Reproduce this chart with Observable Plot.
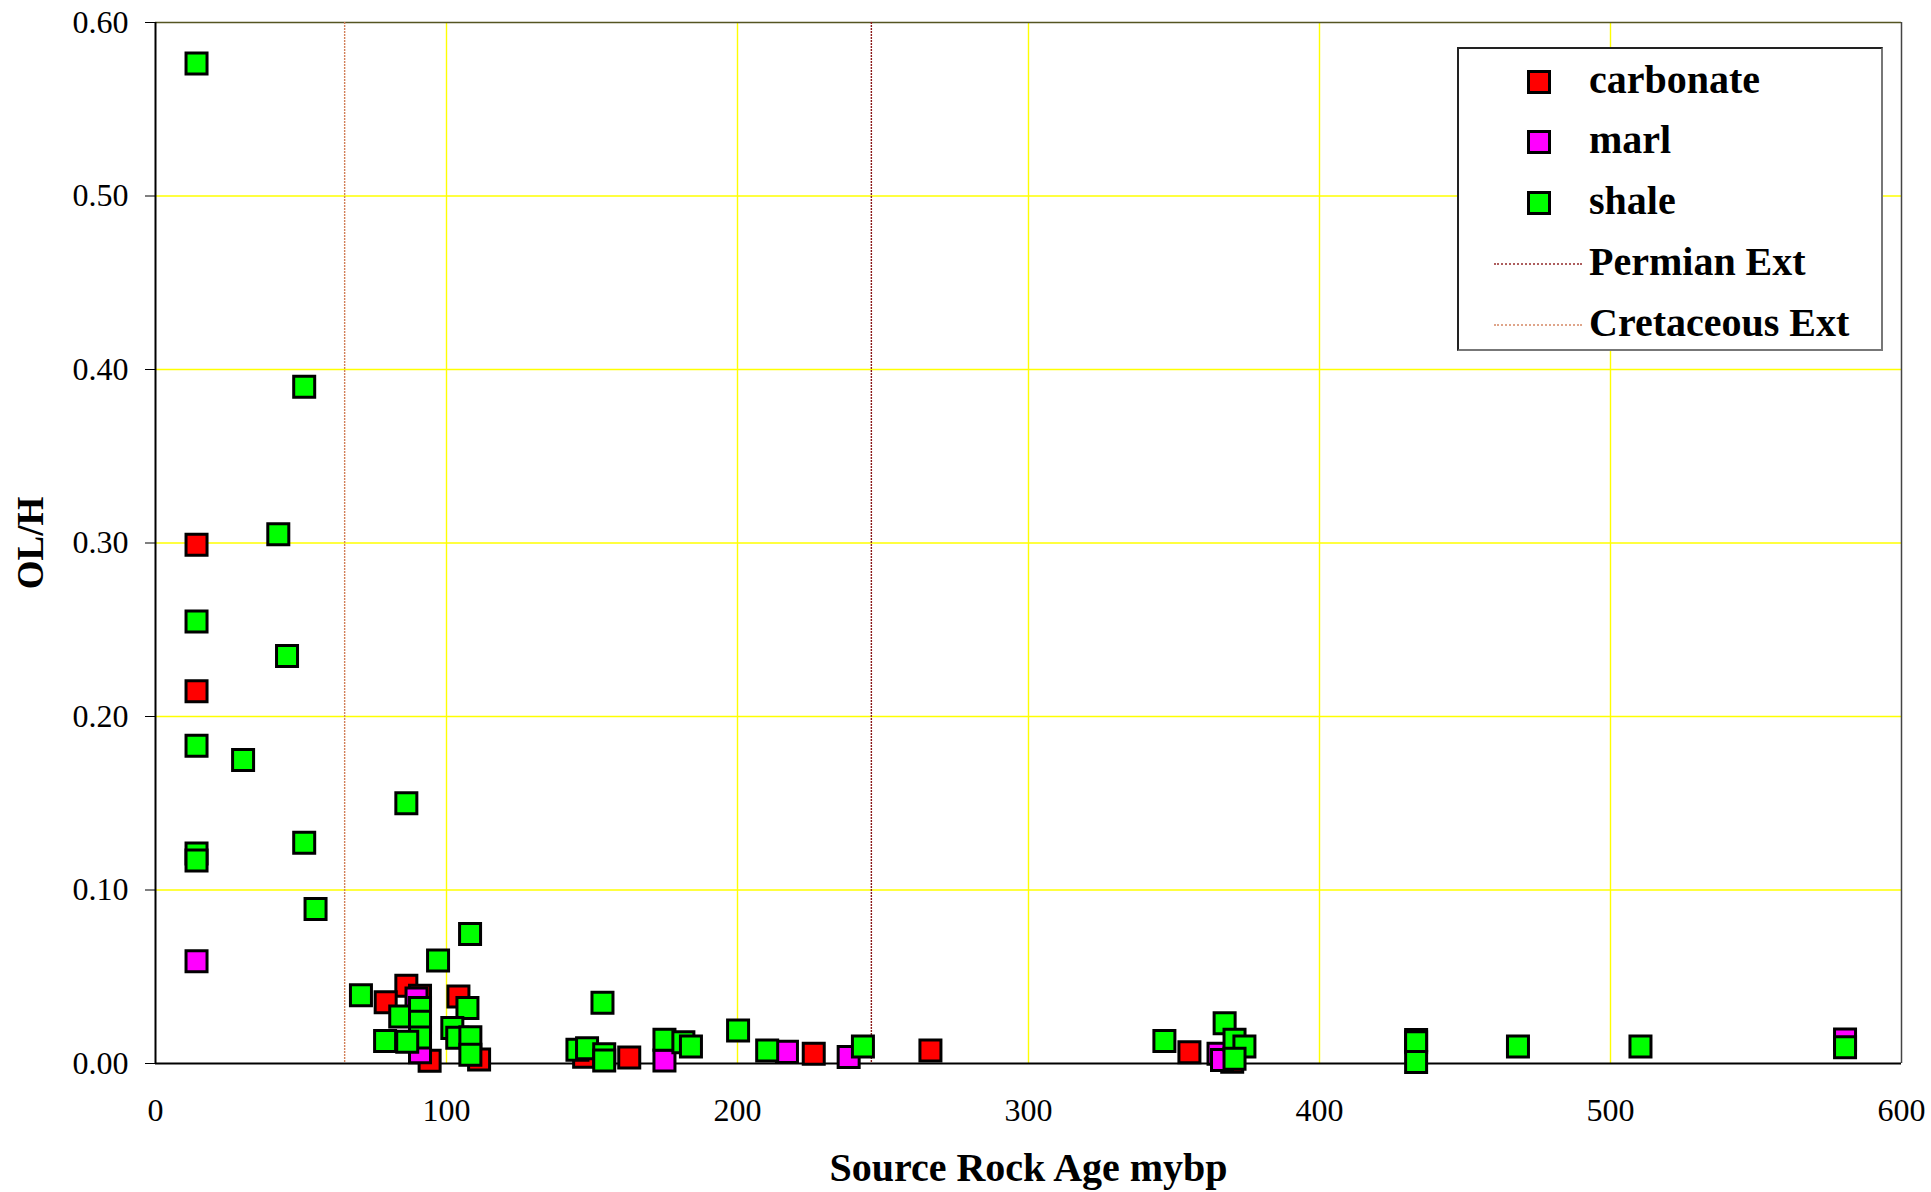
<!DOCTYPE html>
<html>
<head>
<meta charset="utf-8">
<script src="https://cdn.jsdelivr.net/npm/d3@7"></script>
<script src="https://cdn.jsdelivr.net/npm/@observablehq/plot@0.6"></script>
<style>
  html, body { margin: 0; padding: 0; background: white; }
  #chart { position: relative; width: 1931px; height: 1192px; }
  #legend { position: absolute; left: 1457px; top: 47px; width: 426px; height: 304px;
    box-sizing: border-box; border: 2px solid #222; border-right-color: #777; border-bottom-color: #777;
    background: white; font-family: 'Liberation Serif', 'Times New Roman', serif; font-weight: bold; font-size: 40px; }
  .item { position: absolute; left: 0; width: 100%; height: 44px; }
  .sw { position: absolute; left: 68px; top: 10px; width: 24px; height: 24px; box-sizing: border-box; border: 3px solid black; }
  .ln { position: absolute; left: 35px; top: 21px; width: 88px; height: 0; border-top: 2px dotted; }
  .lbl { position: absolute; left: 130px; top: -2px; line-height: 44px; white-space: nowrap; }
</style>
</head>
<body>
<div id="chart"></div>
<script>
// ---- data (Source Rock Age mybp, OL/H) ----
const carbonateX = [14.1, 14.1, 86.2, 79.1, 90.9, 104.1, 94.2, 111.2, 147.3, 162.8, 226.2, 266.3, 355.3, 370.0, 433.2];
const carbonateY = [0.299, 0.2146, 0.0448, 0.0353, 0.039, 0.0386, 0.0016, 0.0023, 0.0039, 0.0035, 0.0056, 0.0075, 0.0065, 0.001, 0.0135];

const marlX = [14.1, 89.7, 90.9, 174.9, 217.0, 238.2, 365.3, 366.5, 580.6];
const marlY = [0.059, 0.0375, 0.0065, 0.0017, 0.0067, 0.0037, 0.0056, 0.002, 0.0138];

const shaleX = [14.1, 51.1, 42.2, 14.1, 45.2, 14.1, 30.1, 86.2, 51.1, 14.1, 14.1, 55.0, 108.1, 97.1, 70.6, 84.1,
  90.9, 90.9, 90.9, 107.2, 102.0, 103.7, 108.2, 108.2, 78.9, 86.5, 153.6, 145.0, 148.3, 154.2, 154.2, 174.9,
  181.4, 184.0, 200.2, 210.2, 243.1, 346.7, 367.4, 370.8, 374.2, 370.8, 433.2, 433.2, 468.2, 510.3, 580.6];
const shaleY = [0.5763, 0.390, 0.305, 0.2547, 0.2348, 0.1832, 0.1749, 0.150, 0.1273, 0.121, 0.117, 0.089, 0.0747, 0.0594, 0.0394, 0.0271,
  0.032, 0.024, 0.015, 0.032, 0.0204, 0.0148, 0.0152, 0.005, 0.0129, 0.0125, 0.035, 0.0079, 0.0088, 0.0054, 0.0017, 0.0137,
  0.0123, 0.0098, 0.019, 0.0075, 0.0098, 0.0129, 0.0232, 0.0137, 0.0098, 0.0027, 0.0123, 0.0008, 0.0098, 0.0098, 0.0094];

const extinctionNames = ["Permian Ext", "Cretaceous Ext"];
const extinctionAges = [246, 65];

const seriesNames = ["carbonate", "marl", "shale"];
const seriesColors = ["#ff0000", "#ff00ff", "#00ff00"];
const extinctionColors = ["#8b1a1a", "#d2805a"];

const xTicks = [0, 100, 200, 300, 400, 500, 600];
const yTicks = [0, 0.1, 0.2, 0.3, 0.4, 0.5, 0.6];
const xLabel = "Source Rock Age mybp";
const yLabel = "OL/H";

// ---- build tables ----
const toRows = (xs, ys) => xs.map((x, i) => ({x, y: ys[i]}));
const carbonate = toRows(carbonateX, carbonateY);
const marl = toRows(marlX, marlY);
const shale = toRows(shaleX, shaleY);
const extinctions = extinctionAges.map((a, i) => ({age: a, name: extinctionNames[i], color: extinctionColors[i]}));

const dotOpts = {x: "x", y: "y", symbol: "square", r: 11.85, stroke: "black", strokeWidth: 3};

const chart = Plot.plot({
  width: 1931,
  height: 1192,
  marginLeft: 155,
  marginRight: 30,
  marginTop: 22,
  marginBottom: 129,
  x: {domain: [0, 600]},
  y: {domain: [0, 0.6]},
  style: {fontFamily: "'Liberation Serif', 'Times New Roman', serif", fontSize: "32px", background: "white", color: "black"},
  marks: [
    Plot.gridX(xTicks.slice(1, -1), {stroke: "#ffff00", strokeOpacity: 1, strokeWidth: 1.4}),
    Plot.gridY(yTicks.slice(1, -1), {stroke: "#ffff00", strokeOpacity: 1, strokeWidth: 1.4}),
    Plot.ruleY([0.6], {stroke: "#555522", strokeWidth: 1.5}),
    Plot.ruleX([600], {stroke: "#444", strokeWidth: 1.5}),
    Plot.ruleX(extinctions, {x: "age", stroke: "color", strokeWidth: 1.4, strokeDasharray: "2,1"}),
    Plot.ruleX([0], {stroke: "black", strokeWidth: 2}),
    Plot.ruleY([0], {stroke: "black", strokeWidth: 2}),
    Plot.axisY({ticks: yTicks, tickFormat: d3.format(".2f"), tickSize: 10, tickPadding: 17, fontSize: 32, label: null}),
    Plot.axisX({ticks: xTicks, tickFormat: d3.format("d"), tickSize: 0, tickPadding: 35, fontSize: 32, label: null}),
    Plot.dot(carbonate, {...dotOpts, fill: seriesColors[0]}),
    Plot.dot(marl, {...dotOpts, fill: seriesColors[1]}),
    Plot.dot(shale, {...dotOpts, fill: seriesColors[2]}),
    Plot.text([xLabel], {frameAnchor: "bottom", dy: 105, fontSize: 40, fontWeight: "bold", lineAnchor: "middle", textAnchor: "middle"}),
    Plot.text([yLabel], {frameAnchor: "left", dx: -124, rotate: -90, fontSize: 37, fontWeight: "bold", lineAnchor: "middle", textAnchor: "middle"})
  ]
});

const root = document.getElementById("chart");
root.appendChild(chart);

// ---- legend ----
const legend = document.createElement("div");
legend.id = "legend";
const rowTops = [11, 71, 132, 193, 254];
seriesNames.forEach((name, i) => {
  const it = document.createElement("div");
  it.className = "item";
  it.style.top = rowTops[i] + "px";
  it.innerHTML = `<div class="sw" style="background:${seriesColors[i]}"></div><div class="lbl">${name}</div>`;
  legend.appendChild(it);
});
extinctions.forEach((e, i) => {
  const it = document.createElement("div");
  it.className = "item";
  it.style.top = rowTops[3 + i] + "px";
  it.innerHTML = `<div class="ln" style="border-top-color:${e.color};opacity:0.7"></div><div class="lbl">${e.name}</div>`;
  legend.appendChild(it);
});
root.appendChild(legend);
</script>
</body>
</html>
